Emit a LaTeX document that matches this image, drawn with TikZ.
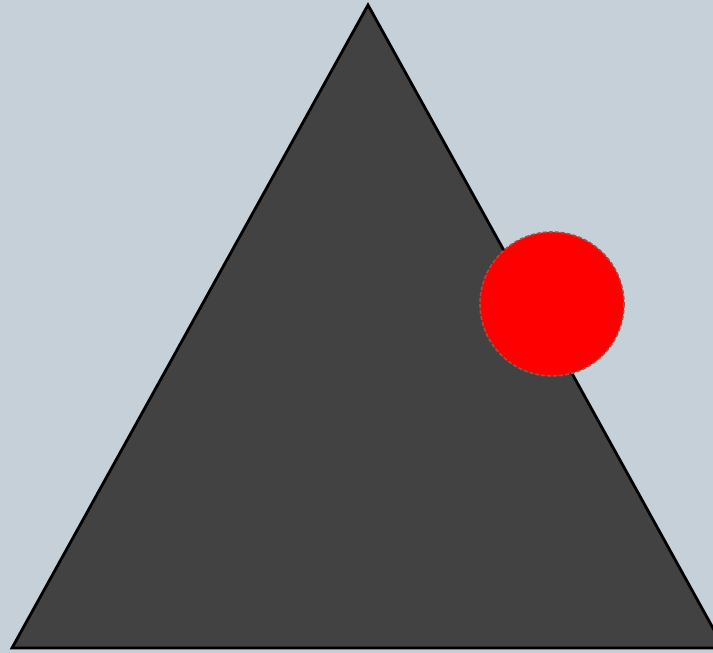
\documentclass[tikz,border=0pt]{standalone}
\usepackage{tikz}
\usetikzlibrary{calc}

\definecolor{skybg}{RGB}{197,208,216}
\definecolor{rockgray}{RGB}{66,66,66}
\definecolor{dotrim}{RGB}{160,80,68}

\begin{document}
\begin{tikzpicture}[x=1pt,y=-1pt]
  \useasboundingbox (0,0) rectangle (713,653);
  \clip (0,0) rectangle (713,653);
  \fill[skybg] (0,0) rectangle (713,653);
  % triangle
  \coordinate (top) at (368,5);
  \coordinate (botleft) at (12,648);
  \coordinate (botright) at (724,648);
  \filldraw[fill=rockgray,draw=black,line width=2.8pt,line join=miter] (top)--(botleft)--(botright)--cycle;
  % dot
  \coordinate (dot) at (552,304);
  \filldraw[fill=red,draw=dotrim,dash pattern=on 4pt off 2pt,line width=1.6pt] (dot) circle (72);
\end{tikzpicture}
\end{document}
